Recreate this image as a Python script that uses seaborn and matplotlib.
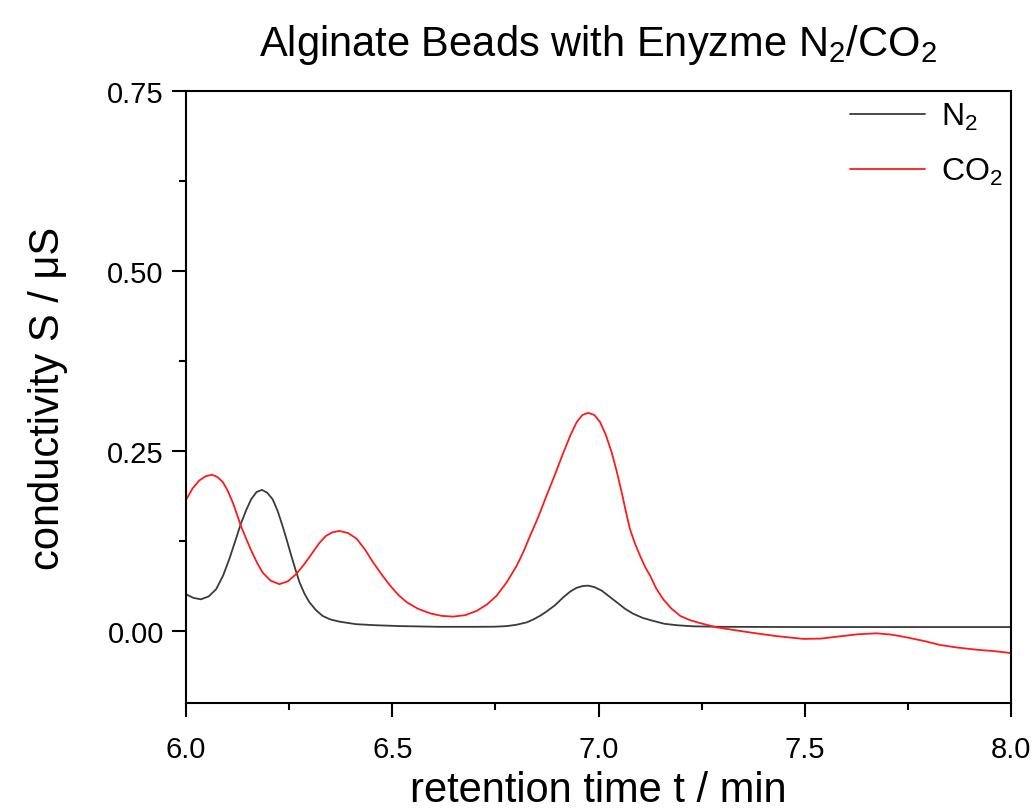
import numpy as np
import pandas as pd
import matplotlib
matplotlib.use("Agg")
import matplotlib.pyplot as plt
from matplotlib.ticker import MultipleLocator
from matplotlib.lines import Line2D
import seaborn as sns

# ---- data ----
n2_time = [6.000, 6.018, 6.036, 6.055, 6.073, 6.090, 6.105, 6.120, 6.133, 6.146,
           6.158, 6.171, 6.184, 6.197, 6.210, 6.222, 6.234, 6.245, 6.255, 6.265,
           6.275, 6.287, 6.299, 6.315, 6.331, 6.350, 6.372, 6.412, 6.460, 6.520,
           6.616, 6.700, 6.750, 6.777, 6.800, 6.826, 6.842, 6.858, 6.874, 6.895,
           6.915, 6.932, 6.947, 6.962, 6.975, 6.990, 7.008, 7.026, 7.044, 7.064,
           7.084, 7.108, 7.133, 7.160, 7.190, 7.230, 7.300, 7.500, 7.750, 8.000]
n2_cond = [0.051, 0.046, 0.044, 0.048, 0.058, 0.077, 0.100, 0.126, 0.149, 0.168,
           0.183, 0.193, 0.196, 0.192, 0.183, 0.167, 0.146, 0.125, 0.105, 0.086,
           0.068, 0.052, 0.040, 0.029, 0.021, 0.016, 0.013, 0.0095, 0.008, 0.0068,
           0.0058, 0.0058, 0.006, 0.0068, 0.0085, 0.012, 0.016, 0.021, 0.027, 0.036,
           0.047, 0.055, 0.060, 0.0625, 0.063, 0.061, 0.056, 0.048, 0.040, 0.031,
           0.024, 0.018, 0.014, 0.010, 0.008, 0.0065, 0.0058, 0.0055, 0.0055, 0.0055]

co2_time = [6.000, 6.016, 6.032, 6.048, 6.063, 6.076, 6.089, 6.101, 6.113, 6.123,
            6.133, 6.146, 6.158, 6.172, 6.186, 6.205, 6.226, 6.247, 6.267, 6.287,
            6.307, 6.323, 6.339, 6.355, 6.372, 6.393, 6.414, 6.434, 6.454, 6.475,
            6.495, 6.515, 6.535, 6.562, 6.592, 6.620, 6.648, 6.677, 6.705, 6.730,
            6.753, 6.778, 6.802, 6.818, 6.834, 6.850, 6.862, 6.874, 6.895, 6.915,
            6.932, 6.947, 6.961, 6.975, 6.990, 7.004, 7.018, 7.032, 7.044, 7.056,
            7.066, 7.076, 7.088, 7.101, 7.113, 7.125, 7.140, 7.157, 7.177, 7.198,
            7.222, 7.246, 7.287, 7.327, 7.367, 7.430, 7.497, 7.540, 7.585, 7.630,
            7.674, 7.710, 7.747, 7.790, 7.828, 7.870, 7.917, 7.960, 8.000]
co2_cond = [0.182, 0.198, 0.209, 0.215, 0.217, 0.214, 0.207, 0.195, 0.179, 0.163,
            0.146, 0.128, 0.112, 0.095, 0.081, 0.070, 0.065, 0.069, 0.079, 0.093,
            0.109, 0.122, 0.132, 0.137, 0.139, 0.136, 0.128, 0.113, 0.095, 0.078,
            0.063, 0.050, 0.040, 0.031, 0.0245, 0.021, 0.020, 0.022, 0.028, 0.037,
            0.049, 0.068, 0.091, 0.110, 0.132, 0.153, 0.170, 0.188, 0.218, 0.248,
            0.272, 0.290, 0.300, 0.303, 0.300, 0.290, 0.272, 0.248, 0.222, 0.193,
            0.167, 0.142, 0.122, 0.104, 0.089, 0.077, 0.059, 0.044, 0.031, 0.021,
            0.015, 0.011, 0.005, 0.0015, -0.002, -0.007, -0.011, -0.0105, -0.0074, -0.0045,
            -0.0032, -0.005, -0.0088, -0.014, -0.0194, -0.023, -0.026, -0.028, -0.0306]

series_labels = ["N$_2$", "CO$_2$"]
series_colors = ["#3a3a3a", "#ff1a1a"]

x_ticks = [6.0, 6.5, 7.0, 7.5, 8.0]
y_ticks = [0.00, 0.25, 0.50, 0.75]

title = "Alginate Beads with Enyzme N$_2$/CO$_2$"
xlabel = "retention time t / min"
ylabel = "conductivity S / \u03bcS"

# ---- build table ----
df = pd.concat([
    pd.DataFrame({"time": n2_time, "cond": n2_cond, "gas": series_labels[0]}),
    pd.DataFrame({"time": co2_time, "cond": co2_cond, "gas": series_labels[1]}),
], ignore_index=True)

sns.set_style("white")
plt.rcParams["font.family"] = ["Liberation Sans", "DejaVu Sans"]
plt.rcParams["mathtext.fontset"] = "custom"
plt.rcParams["mathtext.rm"] = "Liberation Sans"
plt.rcParams["mathtext.it"] = "Liberation Sans"
plt.rcParams["mathtext.bf"] = "Liberation Sans"
plt.rcParams["text.color"] = "black"
plt.rcParams["axes.labelcolor"] = "black"

fig = plt.figure(figsize=(10.34, 8.12), dpi=100)
ax = fig.add_axes([186 / 1034, 1 - 704 / 812, (1011 - 186) / 1034, (704 - 92) / 812])

sns.lineplot(data=df, x="time", y="cond", hue="gas",
             palette=dict(zip(series_labels, series_colors)),
             estimator=None, sort=False, linewidth=1.3, ax=ax, legend=False)
for ln in ax.get_lines():
    ln.set_solid_joinstyle("round")

ax.set_xlim(6.0, 8.0)
ax.set_ylim(-0.1, 0.75)
ax.set_xticks(x_ticks)
ax.set_yticks(y_ticks)
ax.set_xticklabels([f"{v:.1f}" for v in x_ticks])
ax.set_yticklabels([f"{v:.2f}" for v in y_ticks])
ax.xaxis.set_minor_locator(MultipleLocator(0.25))
ax.yaxis.set_minor_locator(MultipleLocator(0.125))

ax.tick_params(axis="both", which="major", direction="out", length=10, width=1.5,
               labelsize=21, color="black", labelcolor="black",
               bottom=True, left=True, top=False, right=False, pad=6)
ax.tick_params(axis="x", which="major", pad=13)
ax.tick_params(axis="both", which="minor", direction="out", length=5, width=1.5,
               color="black", bottom=True, left=True, top=False, right=False)

for s in ax.spines.values():
    s.set_visible(True)
    s.set_color("black")
    s.set_linewidth(1.5)

ax.set_xlabel(xlabel, fontsize=30, labelpad=5, color="black")
ax.set_ylabel(ylabel, fontsize=30, labelpad=28, color="black")
ax.set_title(title, fontsize=30, pad=26, color="black")

handles = [Line2D([], [], color=c, linewidth=1.3) for c in series_colors]
ax.legend(handles, series_labels, loc="upper right", frameon=False, fontsize=23,
          handlelength=2.35, handletextpad=0.5, labelspacing=0.75,
          borderaxespad=0.0, bbox_to_anchor=(1.005, 1.005))

fig.savefig("out.png", dpi=100)
